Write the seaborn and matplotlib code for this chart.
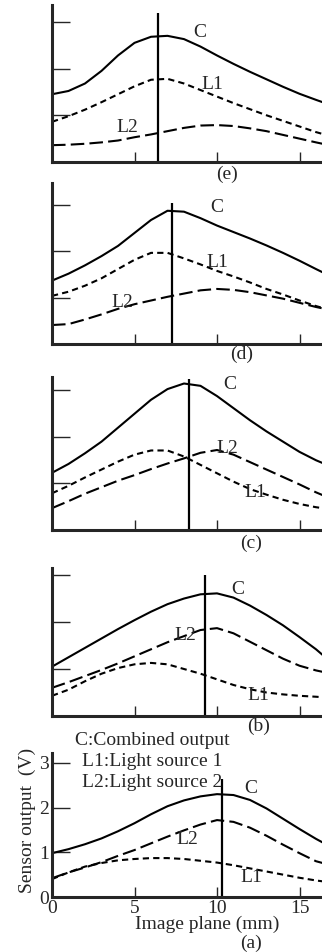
import numpy as np
import matplotlib
matplotlib.use('Agg')
import matplotlib.pyplot as plt
import pandas as pd
import seaborn as sns

# ## data ===============================================================================
x_mm = [0, 1, 2, 3, 4, 5, 6, 7, 8, 9, 10, 11, 12, 13, 14, 15, 16, 16.4]

C_a  = [0.98, 1.07, 1.18, 1.31, 1.47, 1.65, 1.85, 2.03, 2.16, 2.25, 2.30, 2.28, 2.17, 1.98, 1.75, 1.52, 1.30, 1.22]
L1_a = [0.40, 0.55, 0.68, 0.76, 0.82, 0.85, 0.87, 0.87, 0.85, 0.81, 0.77, 0.71, 0.64, 0.57, 0.50, 0.43, 0.37, 0.35]
L2_a = [0.42, 0.55, 0.66, 0.78, 0.92, 1.05, 1.20, 1.35, 1.49, 1.62, 1.72, 1.68, 1.55, 1.37, 1.17, 0.98, 0.80, 0.76]

C_b  = [1.05, 1.25, 1.45, 1.65, 1.85, 2.04, 2.22, 2.38, 2.50, 2.59, 2.61, 2.52, 2.35, 2.15, 1.93, 1.68, 1.42, 1.30]
L1_b = [0.43, 0.56, 0.74, 0.90, 1.02, 1.10, 1.13, 1.10, 1.00, 0.90, 0.78, 0.66, 0.57, 0.50, 0.46, 0.43, 0.41, 0.40]
L2_b = [0.60, 0.72, 0.85, 0.98, 1.12, 1.27, 1.42, 1.57, 1.70, 1.83, 1.87, 1.76, 1.58, 1.40, 1.22, 1.07, 0.97, 0.94]

C_c  = [1.23, 1.42, 1.65, 1.90, 2.20, 2.50, 2.80, 3.03, 3.15, 3.10, 2.88, 2.62, 2.36, 2.12, 1.90, 1.68, 1.50, 1.44]
L1_c = [0.79, 0.95, 1.13, 1.30, 1.47, 1.62, 1.71, 1.71, 1.58, 1.40, 1.22, 1.04, 0.88, 0.76, 0.65, 0.56, 0.49, 0.47]
L2_c = [0.47, 0.62, 0.78, 0.92, 1.06, 1.18, 1.31, 1.43, 1.54, 1.66, 1.72, 1.62, 1.46, 1.30, 1.14, 0.98, 0.81, 0.75]

C_d  = [1.37, 1.52, 1.70, 1.90, 2.12, 2.40, 2.68, 2.88, 2.86, 2.72, 2.56, 2.42, 2.28, 2.13, 1.97, 1.80, 1.62, 1.55]
L1_d = [1.04, 1.13, 1.26, 1.42, 1.62, 1.82, 1.97, 1.97, 1.85, 1.72, 1.58, 1.46, 1.33, 1.19, 1.07, 0.94, 0.82, 0.78]
L2_d = [0.41, 0.43, 0.53, 0.64, 0.76, 0.86, 0.94, 1.02, 1.09, 1.16, 1.19, 1.17, 1.12, 1.05, 0.98, 0.89, 0.80, 0.77]

C_e  = [1.45, 1.52, 1.68, 1.95, 2.28, 2.55, 2.68, 2.70, 2.63, 2.47, 2.28, 2.10, 1.93, 1.77, 1.61, 1.46, 1.33, 1.28]
L1_e = [0.86, 0.98, 1.12, 1.28, 1.45, 1.62, 1.76, 1.78, 1.68, 1.54, 1.40, 1.26, 1.13, 1.00, 0.88, 0.76, 0.64, 0.60]
L2_e = [0.36, 0.37, 0.39, 0.42, 0.46, 0.53, 0.59, 0.66, 0.73, 0.78, 0.79, 0.77, 0.72, 0.66, 0.58, 0.50, 0.42, 0.39]

panels = ['a', 'b', 'c', 'd', 'e']
# position of the vertical marker line and its top (V)
vline_x   = [10.3, 9.3, 8.3, 7.3, 6.4]
vline_top = [2.64, 3.0, 3.25, 3.05, 3.19]

curves = {'a': (C_a, L1_a, L2_a), 'b': (C_b, L1_b, L2_b), 'c': (C_c, L1_c, L2_c),
          'd': (C_d, L1_d, L2_d), 'e': (C_e, L1_e, L2_e)}

rows = []
for p in panels:
    for name, vals in zip(['C', 'L1', 'L2'], curves[p]):
        for x, v in zip(x_mm, vals):
            rows.append({'panel': p, 'curve': name, 'x': x, 'V': v})
df = pd.DataFrame(rows)

# ## layout (pixels from top of 952 px figure) =========================================
W, H = 322, 952
ax_px = {'e': (5, 162, 3.36), 'd': (183, 344, 3.48), 'c': (377, 530, 3.29),
         'b': (568, 716, 3.15), 'a': (753, 897, 3.22)}

# curve labels (x mm, V) per panel
lab_pos = {
    'e': {'C': (8.97, 2.78), 'L1': (9.7, 1.65), 'L2': (4.55, 0.73)},
    'd': {'C': (10.0, 2.94), 'L1': (10.0, 1.77), 'L2': (4.24, 0.89)},
    'c': {'C': (10.8, 3.12), 'L2': (10.6, 1.76), 'L1': (12.3, 0.80)},
    'b': {'C': (11.27, 2.70), 'L2': (8.06, 1.72), 'L1': (12.5, 0.43)},
    'a': {'C': (12.06, 2.42), 'L2': (8.18, 1.28), 'L1': (12.1, 0.43)},
}
tag_pos = {'e': (10.6, -0.26), 'd': (11.5, -0.22), 'c': (12.06, -0.28),
           'b': (12.5, -0.21), 'a': (12.06, -1.03)}

# ## Figure =============================================================================
sns.set_style('ticks')
plt.rcParams['font.family'] = ['Liberation Serif', 'DejaVu Serif']
plt.rcParams['font.size'] = 14

fig = plt.figure(figsize=(W / 100, H / 100), dpi=100)
dash_map = {'C': '', 'L1': (3, 2), 'L2': (6.5, 2.5)}

for i, p in enumerate(panels):
    top, bot, ymax = ax_px[p]
    ax = fig.add_axes([52 / W, 1 - bot / H, 1 - 52 / W, (bot - top) / H])
    sns.lineplot(data=df[df['panel'] == p], x='x', y='V', style='curve', dashes=dash_map,
                 color='black', lw=1.5, legend=False, estimator=None, ax=ax)
    ax.vlines(vline_x[i], 0, vline_top[i], color='black', lw=1.6, clip_on=False)
    ax.set_xlim(0, (W - 52) / 16.5)
    ax.set_ylim(0, ymax)
    sns.despine(ax=ax)
    for s in ['left', 'bottom']:
        ax.spines[s].set_linewidth(2.2)
    ax.tick_params(axis='y', direction='in', length=13, width=1, pad=2, labelsize=14)
    ax.tick_params(axis='x', direction='in', length=7, width=1, pad=2, labelsize=14)
    ax.set_xlabel('')
    ax.set_ylabel('')
    if p == 'a':
        ax.set_xticks([0, 5, 10, 15])
        ax.set_yticks([0, 1, 2, 3])
        ax.set_xlabel('Image plane (mm)')
        ax.xaxis.set_label_coords(0.574, -0.13)
        ax.set_ylabel('Sensor output  (V)')
        ax.yaxis.set_label_coords(-0.06, 0.535)
        ax.text(1.39, 3.49, 'C:Combined output', ha='left', va='center', clip_on=False)
        ax.text(1.82, 3.02, 'L1:Light source 1', ha='left', va='center')
        ax.text(1.82, 2.57, 'L2:Light source 2', ha='left', va='center')
    else:
        ax.set_xticks([5, 10, 15])
        ax.set_yticks([1, 2, 3])
        ax.set_xticklabels([])
        ax.set_yticklabels([])
    for name, (lx, ly) in lab_pos[p].items():
        ax.text(lx, ly, name, ha='center', va='center')
    ax.text(tag_pos[p][0], tag_pos[p][1], '(' + p + ')', ha='center', va='center', clip_on=False)

fig.savefig('out.png', dpi=100)
